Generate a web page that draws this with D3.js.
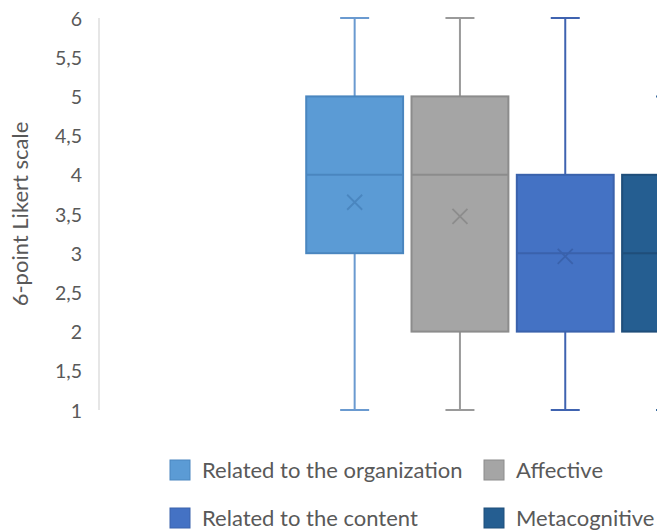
<!DOCTYPE html>
<html>
<head>
<meta charset="utf-8">
<script src="https://cdn.jsdelivr.net/npm/d3@7"></script>
<style>
  html, body { margin: 0; padding: 0; background: #fff; }
  svg { display: block; }
  text { font-family: Lato, "Open Sans", sans-serif; fill: #595959; }
</style>
</head>
<body>
<svg id="chart" width="657" height="531"></svg>
<script>
// Series shown as box plots (one category, four series)
const series = ["Related to the organization", "Affective", "Related to the content", "Metacognitive"];
const minValues    = [1, 1, 1, 1];
const q1Values     = [3, 2, 2, 2];
const medianValues = [4, 4, 3, 3];
const q3Values     = [5, 5, 4, 4];
const maxValues    = [6, 6, 6, 5];
const meanValues   = [3.65, 3.47, 2.96, 2.9];
const fillColors   = ["#5B9BD5", "#A5A5A5", "#4472C4", "#255E91"];
const lineColors   = ["#4A86BF", "#8C8C8C", "#3A62AC", "#1F4E7A"];
const whiskerColors = ["#6A9AD0", "#9A9A9A", "#3F63B0", "#2B6198"];
const yTicks = [1, 1.5, 2, 2.5, 3, 3.5, 4, 4.5, 5, 5.5, 6];
const yTitle = "6-point Likert scale";

const svg = d3.select("#chart");

const y = d3.scaleLinear().domain([1, 6]).range([410, 18]);
const x = d3.scaleBand().domain(series).range([302, 723.2]).paddingInner(0.08).paddingOuter(0.04);
const axisX = 99;

const fmt = v => String(v).replace(".", ",");

// Vertical axis line and tick labels
svg.append("line")
  .attr("x1", axisX).attr("x2", axisX)
  .attr("y1", y(6)).attr("y2", y(1))
  .attr("stroke", "#D9D9D9").attr("stroke-width", 1.3);

svg.append("g").selectAll("text").data(yTicks).join("text")
  .attr("x", 82).attr("y", d => y(d))
  .attr("text-anchor", "end").attr("dominant-baseline", "central")
  .style("font-size", "19.5px")
  .text(fmt);

svg.append("text")
  .attr("transform", `translate(19, ${(y(1) + y(6)) / 2}) rotate(-90)`)
  .attr("text-anchor", "middle").attr("dominant-baseline", "central")
  .style("font-size", "22px")
  .text(yTitle);

// Boxes
const bw = x.bandwidth();
const capW = 29;
const g = svg.append("g");
series.forEach((s, i) => {
  const cx = x(s) + bw / 2;
  const grp = g.append("g");
  // whiskers
  grp.append("line").attr("x1", cx).attr("x2", cx)
    .attr("y1", y(maxValues[i])).attr("y2", y(q3Values[i]))
    .attr("stroke", whiskerColors[i]).attr("stroke-width", 2);
  grp.append("line").attr("x1", cx).attr("x2", cx)
    .attr("y1", y(q1Values[i])).attr("y2", y(minValues[i]))
    .attr("stroke", whiskerColors[i]).attr("stroke-width", 2);
  [maxValues[i], minValues[i]].forEach(v => {
    grp.append("line").attr("x1", cx - capW / 2).attr("x2", cx + capW / 2)
      .attr("y1", y(v)).attr("y2", y(v))
      .attr("stroke", whiskerColors[i]).attr("stroke-width", 2);
  });
  // box
  grp.append("rect")
    .attr("x", x(s)).attr("width", bw)
    .attr("y", y(q3Values[i])).attr("height", y(q1Values[i]) - y(q3Values[i]))
    .attr("fill", fillColors[i]).attr("stroke", lineColors[i]).attr("stroke-width", 2);
  // median
  grp.append("line").attr("x1", x(s)).attr("x2", x(s) + bw)
    .attr("y1", y(medianValues[i])).attr("y2", y(medianValues[i]))
    .attr("stroke", lineColors[i]).attr("stroke-width", 2);
  // mean marker
  const my = y(meanValues[i]), r = 7.5;
  grp.append("path")
    .attr("d", `M${cx - r},${my - r}L${cx + r},${my + r}M${cx - r},${my + r}L${cx + r},${my - r}`)
    .attr("stroke", lineColors[i]).attr("stroke-width", 1.8).attr("fill", "none");
});

// Legend
const legendCols = [170, 484];
const legendRows = [470, 518];
const legend = svg.append("g");
series.forEach((s, i) => {
  const lx = legendCols[i % 2], ly = legendRows[Math.floor(i / 2)];
  legend.append("rect")
    .attr("x", lx).attr("y", ly - 10).attr("width", 20).attr("height", 20)
    .attr("fill", fillColors[i]).attr("stroke", lineColors[i]).attr("stroke-width", 1);
  legend.append("text")
    .attr("x", lx + 32).attr("y", ly - 1)
    .attr("dominant-baseline", "central")
    .style("font-size", "22px")
    .text(s);
});
</script>
</body>
</html>
